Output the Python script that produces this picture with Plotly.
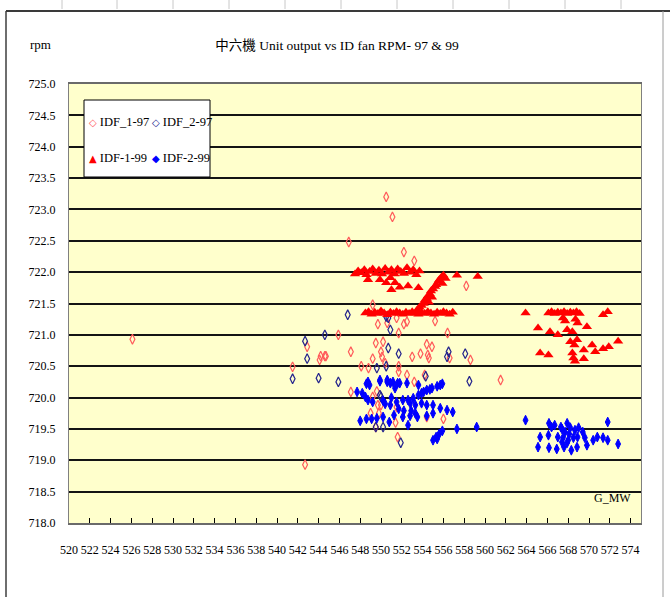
import plotly.graph_objects as go

# ---------------- data ----------------
idf1_97 = [(526.1, 720.93), (542.7, 718.93), (546.9, 722.48), (550.5, 723.2), (551.1, 722.88),
           (552.2, 722.32), (553.2, 722.18), (558.2, 721.78), (549.2, 721.48), (549.7, 721.17),
           (550.6, 721.19), (551.5, 721.27), (551.7, 721.03), (552.2, 721.17), (552.5, 721.21),
           (555.2, 721.22), (556.4, 721.03), (545.9, 721.0), (542.9, 720.81), (544.7, 720.66),
           (544.1, 720.6), (547.1, 720.73), (549.5, 720.87), (550.2, 720.89), (550.0, 720.73),
           (554.4, 720.85), (554.9, 720.81), (553.8, 720.7), (554.5, 720.68), (553.0, 720.65),
           (554.6, 720.63), (556.6, 720.63), (558.6, 720.6), (541.5, 720.49), (548.1, 720.5),
           (549.2, 720.62), (550.4, 720.55), (551.7, 720.5), (551.7, 720.41), (552.5, 720.36),
           (554.2, 720.36), (553.2, 720.25), (547.1, 720.09), (549.6, 720.1), (549.2, 720.01),
           (549.7, 719.88), (551.5, 719.85), (554.4, 719.69), (556.0, 719.66), (549.5, 719.53),
           (551.6, 719.37), (561.5, 720.28), (544.2, 720.66), (544.6, 720.66), (548.8, 720.47),
           (550.1, 720.65), (549.0, 719.75), (549.8, 719.75), (550.0, 719.88), (551.4, 719.6)]

idf2_97 = [(546.8, 721.32), (544.6, 721.0), (542.7, 720.9), (542.9, 720.62), (541.5, 720.3),
           (544.0, 720.31), (545.9, 720.25), (550.5, 721.29), (550.7, 721.27), (550.9, 721.08),
           (550.7, 720.79), (551.7, 720.7), (549.6, 720.47), (550.5, 720.5), (554.3, 720.34),
           (556.5, 720.73), (556.35, 720.65), (558.1, 720.7), (558.5, 720.26), (549.9, 720.04),
           (549.5, 719.53), (550.2, 719.53), (551.9, 719.28), (550.0, 720.01)]

idf1_99 = [(547.5, 721.97), (547.8, 722.02), (548.1, 721.99), (548.4, 722.04), (548.6, 721.96),
           (548.9, 722.01), (549.2, 722.05), (549.5, 721.98), (549.8, 722.03), (550.1, 721.97),
           (550.4, 722.06), (550.7, 722.0), (551.0, 722.04), (551.3, 721.97), (551.6, 722.05),
           (551.9, 722.01), (552.2, 721.98), (552.5, 722.07), (552.8, 722.0), (553.1, 722.04),
           (553.4, 721.96), (553.7, 722.02), (557.3, 721.95), (559.3, 721.93),
           (548.75, 721.88), (549.9, 721.88), (550.9, 721.91), (551.35, 721.83), (551.8, 721.76),
           (552.6, 721.78), (553.6, 721.75), (550.5, 721.83), (551.0, 721.72),
           (553.5, 721.4), (553.7, 721.44), (553.9, 721.47), (554.1, 721.5), (554.2, 721.55),
           (554.4, 721.58), (554.5, 721.62), (554.7, 721.65), (554.8, 721.7), (555.0, 721.73),
           (555.2, 721.77), (555.3, 721.8), (555.5, 721.85), (555.6, 721.88), (555.8, 721.92),
           (556.0, 721.95), (556.2, 721.9), (555.9, 721.82), (554.6, 721.52), (554.9, 721.6),
           (548.5, 721.35), (548.8, 721.37), (549.1, 721.33), (549.4, 721.36), (549.7, 721.34),
           (550.0, 721.38), (550.3, 721.35), (550.6, 721.32), (550.9, 721.36), (551.2, 721.34),
           (551.5, 721.37), (551.8, 721.35), (552.1, 721.33), (552.4, 721.36), (552.7, 721.34),
           (553.0, 721.37), (553.3, 721.35), (553.6, 721.33), (553.9, 721.36), (554.2, 721.34),
           (554.5, 721.37), (554.8, 721.35), (555.1, 721.33), (555.4, 721.36), (555.7, 721.34),
           (556.0, 721.37), (556.3, 721.35), (556.6, 721.33), (556.9, 721.36),
           (563.9, 721.35), (566.1, 721.35), (566.4, 721.37), (566.7, 721.34), (567.0, 721.36),
           (567.3, 721.35), (567.6, 721.37), (567.9, 721.34), (568.2, 721.36), (568.5, 721.35),
           (568.8, 721.37), (569.1, 721.34), (571.35, 721.32), (571.8, 721.37), (565.1, 721.11),
           (566.25, 721.05), (567.0, 721.0), (567.9, 721.08), (568.4, 721.05), (568.9, 721.19),
           (569.8, 721.13), (567.5, 721.27), (568.2, 720.89), (568.85, 720.92), (565.3, 720.71),
           (566.1, 720.68), (568.4, 720.71), (568.5, 720.63), (568.65, 720.58), (569.5, 720.76),
           (569.5, 720.62), (570.3, 720.84), (570.6, 720.73), (571.35, 720.78), (571.9, 720.81),
           (572.8, 720.9), (568.6, 720.84), (567.7, 721.22), (568.7, 721.25)]

idf2_99 = [(547.7, 720.09), (548.2, 720.07), (548.5, 720.01), (548.75, 719.96), (549.2, 719.93),
           (548.6, 720.22), (548.75, 720.25), (549.9, 720.26), (550.6, 720.25), (550.9, 720.23),
           (551.15, 720.25), (551.35, 720.15), (551.6, 720.23), (551.8, 720.23), (552.5, 720.23),
           (553.6, 720.2), (550.9, 719.88), (551.5, 719.93), (552.1, 719.96), (552.6, 719.96),
           (553.1, 719.99), (553.6, 720.04), (553.9, 720.07), (554.4, 720.12), (554.9, 720.15),
           (555.4, 720.18), (555.7, 720.2), (555.9, 720.22), (554.1, 720.09), (554.7, 720.13),
           (551.7, 719.82), (552.2, 719.79), (552.9, 719.79), (551.25, 719.72), (552.1, 719.69),
           (552.8, 719.71), (553.3, 719.75), (548.0, 719.63), (548.6, 719.66), (549.1, 719.66),
           (549.6, 719.67), (550.2, 719.69), (550.8, 719.61), (552.6, 719.56), (552.8, 719.91),
           (553.3, 719.88), (553.9, 719.91), (554.4, 719.88), (555.0, 719.88), (555.7, 719.83),
           (556.35, 719.8), (556.9, 719.77), (553.5, 719.69), (554.4, 719.71), (555.0, 719.75),
           (555.0, 719.32), (555.3, 719.37), (555.6, 719.42), (555.9, 719.47), (555.4, 719.34),
           (557.3, 719.5), (559.2, 719.53), (549.9, 720.28), (550.6, 720.28), (548.9, 720.2),
           (550.2, 719.95), (551.0, 720.0), (550.4, 719.9),
           (563.9, 719.64), (566.15, 719.59), (566.4, 719.53), (566.7, 719.56), (567.3, 719.53),
           (567.9, 719.59), (568.2, 719.52), (568.65, 719.48), (569.0, 719.52), (569.4, 719.45),
           (565.3, 719.37), (566.1, 719.4), (567.0, 719.37), (567.5, 719.36), (568.0, 719.32),
           (568.5, 719.36), (568.9, 719.37), (569.6, 719.36), (570.4, 719.32), (570.8, 719.37),
           (571.35, 719.36), (571.8, 719.32), (571.8, 719.61), (565.1, 719.21), (566.15, 719.2),
           (566.9, 719.18), (567.6, 719.21), (568.3, 719.16), (568.85, 719.21), (569.8, 719.24),
           (572.8, 719.26), (567.9, 719.28), (567.4, 719.29), (567.7, 719.45), (568.1, 719.42),
           (567.4, 719.5)]

series_names = ["IDF_1-97", "IDF_2-97", "IDF-1-99", "IDF-2-99"]
x_range = [520, 575]
y_range = [718, 725]
title_text = "中六機 Unit output vs ID fan RPM- 97 & 99"
y_unit = "rpm"
x_unit = "G_MW"

# ---------------- styles ----------------
FONT = "Liberation Serif, 'Times New Roman', 'Noto Sans CJK TC', serif"
C_1_97 = "#FF5A5A"
C_2_97 = "#23238C"
C_1_99 = "#FF0000"
C_2_99 = "#0000FF"

fig = go.Figure()

def add(pts, name, symbol, size, color, lw, fill=None):
    fig.add_trace(go.Scatter(
        x=[p[0] for p in pts], y=[p[1] for p in pts], mode="markers", name=name,
        showlegend=False, hoverinfo="skip",
        marker=dict(symbol=symbol, size=size, color=fill if fill else color,
                    line=dict(color=color, width=lw))))

add(idf1_97, series_names[0], "diamond-tall-open", 7, C_1_97, 1.2)
add(idf2_97, series_names[1], "diamond-tall-open", 7, C_2_97, 1.2)
add(idf1_99, series_names[2], "triangle-up", 9, C_1_99, 0)
add(idf2_99, series_names[3], "diamond-tall", 7, C_2_99, 1)

# plot area in pixels: x 69..641, y 84..523
L, R, T, B = 69, 641, 84, 523
W, H = R - L, B - T
def px(x):
    return (x - L) / W
def py(y):
    return (B - y) / H

shapes = []
# outer chart frame (Excel-like)
shapes.append(dict(type="line", xref="paper", yref="paper", x0=px(6), x1=px(6), y0=py(11), y1=py(600),
                   line=dict(color="#6e6e6e", width=2)))
shapes.append(dict(type="line", xref="paper", yref="paper", x0=px(6), x1=px(670), y0=py(11), y1=py(11),
                   line=dict(color="#3a3a3a", width=2)))
shapes.append(dict(type="line", xref="paper", yref="paper", x0=px(663), x1=px(663), y0=py(11), y1=py(600),
                   line=dict(color="#9a9a9a", width=1)))
for gx in [62, 117, 173, 229, 285, 341, 397, 453, 509, 565, 621]:
    shapes.append(dict(type="line", xref="paper", yref="paper", x0=px(gx), x1=px(gx), y0=py(0), y1=py(9),
                       line=dict(color="#c8c8c8", width=1)))
# legend box
shapes.append(dict(type="rect", xref="paper", yref="paper", x0=px(84), x1=px(210), y0=py(177), y1=py(100),
                   fillcolor="white", line=dict(color="black", width=1), layer="above"))

annotations = [
    dict(text=y_unit, xref="paper", yref="paper", x=px(40), y=py(45), showarrow=False,
         xanchor="center", yanchor="middle",
         font=dict(family=FONT, size=13, color="black")),
    dict(text=x_unit, xref="paper", yref="paper", x=px(612), y=py(498), showarrow=False,
         xanchor="center", yanchor="middle",
         font=dict(family=FONT, size=12, color="black")),
]
leg = [
    (series_names[0], "◇", C_1_97, 87, 122),
    (series_names[1], "◇", C_2_97, 150, 122),
    (series_names[2], "▲", C_1_99, 87, 158),
    (series_names[3], "◆", C_2_99, 150, 158),
]
for name, glyph, col, lx, ly in leg:
    annotations.append(dict(
        text=f"<span style='color:{col};font-size:10px;font-family:DejaVu Sans'>{glyph}</span> {name}",
        xref="paper", yref="paper", x=px(lx), y=py(ly), xanchor="left", yanchor="middle",
        showarrow=False, font=dict(family=FONT, size=12.5, color="black")))

fig.update_layout(
    width=670, height=597,
    margin=dict(l=L, r=670 - R, t=T, b=597 - B, pad=0),
    paper_bgcolor="white", plot_bgcolor="#FFFFCC",
    title=dict(text=title_text, x=337 / 670, xanchor="center", y=1 - 45 / 597, yanchor="middle",
               font=dict(family=FONT, size=13.5, color="black")),
    font=dict(family=FONT, color="black"),
    showlegend=False,
    shapes=shapes, annotations=annotations,
    xaxis=dict(range=x_range, dtick=2, tick0=520, showgrid=False, zeroline=False,
               ticks="inside", ticklen=5, tickcolor="black", tickwidth=1,
               showline=True, linecolor="#6a6a6a", linewidth=1.5, mirror=True,
               ticklabelstandoff=15, tickfont=dict(family=FONT, size=12, color="black")),
    yaxis=dict(range=y_range, dtick=0.5, tick0=718, tickformat=".1f", showgrid=True,
               gridcolor="#141414", gridwidth=1.6, zeroline=False, ticks="",
               showline=True, linecolor="#808080", linewidth=1, mirror=True,
               ticklabelstandoff=10, tickfont=dict(family=FONT, size=12, color="black")),
)

fig.write_html("out.html", config={"displayModeBar": False},
               post_script="document.body.style.margin='0px';")
